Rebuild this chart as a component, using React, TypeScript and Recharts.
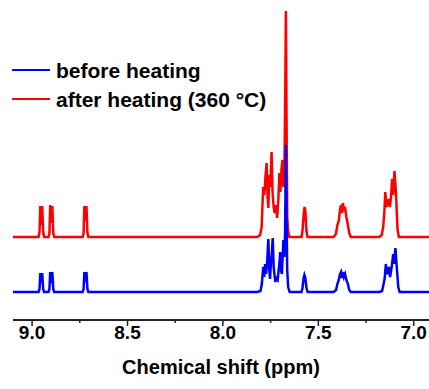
import { LineChart, Line, XAxis, YAxis, Legend, Label } from 'recharts';

const majorTicks = [9.0, 8.5, 8.0, 7.5, 7.0];
const minorTicks = [8.75, 8.25, 7.75, 7.25];
const tickLabels = ['9.0', '8.5', '8.0', '7.5', '7.0'];

const seriesNames = ['before heating', 'after heating (360 °C)'];

// before heating: chemical shift (ppm) and intensity above its own baseline
const beforePpm = [
  9.1, 8.99, 8.966, 8.961, 8.957, 8.952, 8.947, 8.942, 8.937,
  8.914, 8.909, 8.905, 8.899, 8.894, 8.889, 8.884,
  8.735, 8.73, 8.726, 8.721, 8.715, 8.71, 8.705,
  7.82, 7.803, 7.796, 7.791, 7.788, 7.783, 7.779, 7.774, 7.768, 7.762, 7.757, 7.753,
  7.748, 7.743, 7.739, 7.734, 7.73, 7.725, 7.721, 7.713, 7.709, 7.704, 7.7, 7.695,
  7.691, 7.687, 7.683, 7.678, 7.674, 7.67, 7.666, 7.663, 7.658, 7.65,
  7.6, 7.588, 7.583, 7.577, 7.573, 7.568, 7.562, 7.556,
  7.42, 7.407, 7.4, 7.393, 7.386, 7.381, 7.376, 7.371, 7.366, 7.36, 7.353, 7.345, 7.338, 7.33,
  7.18, 7.166, 7.158, 7.152, 7.146, 7.14, 7.136, 7.13, 7.124, 7.118, 7.112, 7.108, 7.103,
  7.096, 7.091, 7.087, 7.081, 7.074, 6.92,
];
const beforeInt = [
  0, 0, 0, 3, 19, 9, 19, 3, 0,
  0, 3, 20, 9, 20, 3, 0,
  0, 3, 20, 10, 20, 3, 0,
  0, 1, 8, 20, 25, 15, 28, 18, 30, 53, 22, 13,
  30, 40, 54, 25, 18, 10, 14, 12, 20, 28, 40, 22,
  18, 35, 52, 35, 60, 147, 70, 22, 5, 0,
  0, 0, 4, 14, 17, 14, 4, 0,
  0, 2, 8, 12, 18, 20, 14, 20, 15, 18, 12, 8, 2, 0,
  0, 1, 8, 14, 28, 18, 20, 25, 15, 22, 30, 38, 28,
  44, 30, 20, 5, 0, 0,
];

// after heating (360 °C)
const afterPpm = [
  9.1, 8.99, 8.966, 8.961, 8.957, 8.952, 8.947, 8.942, 8.937,
  8.914, 8.909, 8.905, 8.899, 8.894, 8.889, 8.884,
  8.735, 8.73, 8.726, 8.721, 8.715, 8.71, 8.705,
  7.82, 7.805, 7.797, 7.789, 7.783, 7.777, 7.771, 7.766, 7.762, 7.757, 7.752,
  7.745, 7.74, 7.734, 7.729, 7.722, 7.716, 7.71, 7.704, 7.699, 7.693, 7.688,
  7.683, 7.678, 7.673, 7.67, 7.667, 7.663, 7.658, 7.652,
  7.6, 7.588, 7.583, 7.576, 7.572, 7.568, 7.562, 7.557,
  7.42, 7.408, 7.4, 7.393, 7.386, 7.381, 7.376, 7.371, 7.366, 7.36, 7.353, 7.345, 7.338, 7.33,
  7.18, 7.168, 7.16, 7.154, 7.149, 7.143, 7.137, 7.131, 7.125, 7.119, 7.113, 7.108,
  7.101, 7.095, 7.091, 7.085, 7.078, 6.92,
];
const afterInt = [
  0, 0, 0, 5, 31, 12, 31, 5, 0,
  0, 4, 32, 14, 31, 4, 0,
  0, 4, 31, 16, 31, 4, 0,
  0, 2, 10, 50, 42, 60, 74, 40, 29, 62, 50,
  85, 45, 30, 24, 32, 19, 35, 64, 45, 68, 77,
  50, 60, 150, 226, 130, 20, 6, 0,
  0, 0, 6, 24, 30, 26, 6, 0,
  0, 3, 12, 16, 28, 32, 24, 34, 26, 30, 20, 12, 4, 0,
  0, 2, 10, 25, 45, 30, 34, 38, 30, 40, 58, 42,
  66, 50, 35, 8, 0, 0,
];

const BEFORE_BASE = 28;
const AFTER_BASE = 83;

const beforeData = beforePpm.map((ppm, i) => ({ ppm, v: beforeInt[i] + BEFORE_BASE }));
const afterData = afterPpm.map((ppm, i) => ({ ppm, v: afterInt[i] + AFTER_BASE }));

const FONT = '"Liberation Sans", Arial, sans-serif';
const colors = ['#0000ff', '#ff0000'];

function ShiftTick({ x, y, payload }: any) {
  const idx = majorTicks.indexOf(payload.value);
  const major = idx >= 0;
  return (
    <g>
      <line x1={x} y1={y} x2={x} y2={y + (major ? 6 : 3)} stroke="#222" strokeWidth={1.5} />
      {major && (
        <text x={x} y={y + 19} textAnchor="middle" fill="#000" fontSize={19} fontWeight="bold" fontFamily={FONT}>
          {tickLabels[idx]}
        </text>
      )}
    </g>
  );
}

function NmrLegend() {
  return (
    <div style={{ fontFamily: FONT, fontWeight: 'bold', fontSize: 21, color: '#000' }}>
      {seriesNames.map((name, i) => (
        <div key={name} style={{ display: 'flex', alignItems: 'center', height: 29, lineHeight: '29px', whiteSpace: 'nowrap' }}>
          <span style={{ display: 'inline-block', width: 38, height: 2.5, background: colors[i], marginRight: 6 }} />
          <span>{name}</span>
        </div>
      ))}
    </div>
  );
}

export default function App() {
  return (
    <div style={{ position: 'absolute', left: 0, top: 0, width: 429, height: 389, background: '#fff', overflow: 'hidden' }}>
      <LineChart width={429} height={389} margin={{ top: 10, right: 0, left: 13, bottom: 0 }}>
        <XAxis
          dataKey="ppm"
          type="number"
          domain={[6.92, 9.1]}
          reversed
          allowDataOverflow
          ticks={[...majorTicks, ...minorTicks]}
          interval={0}
          height={69}
          tickSize={0}
          tickMargin={0}
          tickLine={false}
          axisLine={{ stroke: '#222', strokeWidth: 2 }}
          tick={<ShiftTick />}
        >
          <Label
            value="Chemical shift (ppm)"
            position="insideBottom"
            offset={15}
            fill="#000"
            fontSize={20}
            fontWeight="bold"
            fontFamily={FONT}
          />
        </XAxis>
        <YAxis type="number" domain={[0, 310]} hide />
        <Legend
          layout="vertical"
          verticalAlign="middle"
          align="center"
          content={<NmrLegend />}
          wrapperStyle={{ left: 12, top: 55.5, width: 'auto', height: 'auto' }}
        />
        {/* red drawn first so the blue 7.67 ppm line sits on top of it, as in the figure */}
        <Line
          data={afterData}
          dataKey="v"
          name={seriesNames[1]}
          stroke={colors[1]}
          strokeWidth={2.5}
          dot={false}
          type="linear"
          isAnimationActive={false}
        />
        <Line
          data={beforeData}
          dataKey="v"
          name={seriesNames[0]}
          stroke={colors[0]}
          strokeWidth={2.5}
          dot={false}
          type="linear"
          isAnimationActive={false}
        />
      </LineChart>
    </div>
  );
}
